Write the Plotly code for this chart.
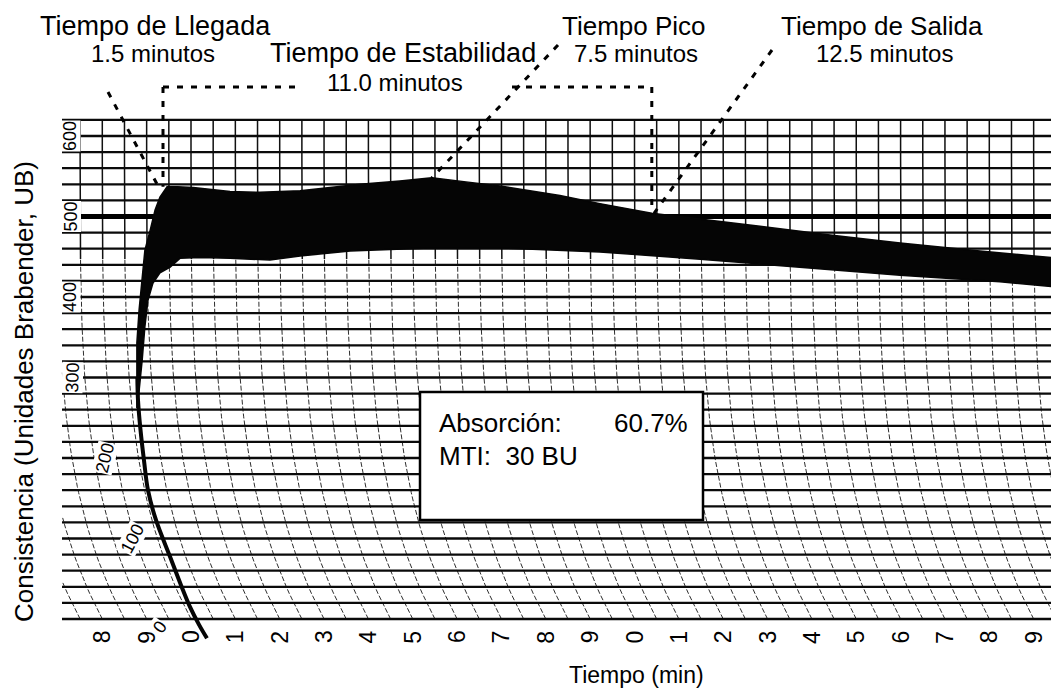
import numpy as np
import plotly.graph_objects as go

# ---------------- data ----------------
bu_tick_values = [600, 500, 400, 300, 200, 100, 0]
bu_grid_values = list(range(0, 640, 20))
minute_tick_values = list(range(-2, 20))
minute_tick_labels = [str(m % 10) for m in minute_tick_values]

# upper edge of the consistency band (chart minutes, BU)
upper_t = [-0.54, -0.30, 0.05, 0.88, 1.56, 2.46, 3.13, 3.81, 4.71, 5.43, 6.20, 6.97,
           8.32, 9.22, 10.39, 11.48, 12.83, 14.41, 15.99, 17.79, 19.60]
upper_bu = [537, 537, 536, 531, 530, 532, 536, 540, 544, 548, 543, 538,
            526, 516, 504, 497, 488, 477, 467, 457, 448]
# lower edge of the band
lower_t = [-0.25, 0.20, 0.88, 1.78, 2.46, 3.59, 5.39, 6.97, 9.22, 11.48, 13.73, 15.99, 18.24, 19.60]
lower_bu = [448, 449, 448, 446, 451, 457, 461, 461, 456, 447, 437, 427, 419, 412]
# outer (left) edge of the rising part, bottom -> top
outer_t = [-1.22, -1.22, -1.22, -1.17, -1.10, -1.04, -0.92, -0.81, -0.70]
outer_bu = [262, 301, 343, 384, 425, 458, 483, 508, 524]
# inner edge of the rising part, top -> bottom
inner_t = [-0.47, -0.70, -0.86, -0.97, -1.04, -1.10, -1.17, -1.21]
inner_bu = [437, 430, 417, 396, 363, 322, 281, 262]
# initial single trace of the pen
start_t = [-1.21, -1.195, -1.139, -1.06, -0.97, -0.79, -0.47, -0.225, -0.023, 0.18, 0.36]
start_bu = [300, 272, 235, 197, 160, 123, 77, 42, 15, -7, -24]

absorcion = "60.7%"
mti = "30 BU"

# ---------------- layout calibration ----------------
# the page body adds an 8px margin, so the figure covers window pixels 8..1059 / 8..690
OFF = 8
WIN_W, WIN_H = 1059, 690
W, H = WIN_W - OFF, WIN_H - OFF
X0_PX, PX_PER_MIN = 191.0, 44.35
Y0_PX, PX_PER_BU = 619.0, 0.805


def tx(px):
    return (px - X0_PX) / PX_PER_MIN


def by(py):
    return (Y0_PX - py) / PX_PER_BU


FONT = "Liberation Sans, Arial, sans-serif"
fig = go.Figure()

# ---------------- chart paper: curved time lines ----------------
C_ARC = 1.5
x_left = tx(62)
solid_x, solid_y, dash_x, dash_y = [], [], [], []
for m in np.arange(-3.0, 21.01, 0.5):
    b = np.linspace(0, 620, 80)
    u = (620 - b) / 620
    x = m - C_ARC + C_ARC * u ** 4
    for xi, bi in zip(x, b):
        if xi < x_left:
            continue
        if bi >= 440:
            solid_x.append(xi); solid_y.append(bi)
        if bi <= 450:
            dash_x.append(xi); dash_y.append(bi)
    solid_x.append(None); solid_y.append(None)
    dash_x.append(None); dash_y.append(None)
fig.add_trace(go.Scatter(x=dash_x, y=dash_y, mode="lines",
                         line=dict(color="#2e2e2e", width=1, dash="5px,2px"),
                         hoverinfo="skip", showlegend=False))
fig.add_trace(go.Scatter(x=solid_x, y=solid_y, mode="lines",
                         line=dict(color="#111", width=1.5),
                         hoverinfo="skip", showlegend=False))

# horizontal consistency lines
hx, hy = [], []
for v in bu_grid_values:
    hx += [x_left, tx(WIN_W + 5), None]
    hy += [v, v, None]
fig.add_trace(go.Scatter(x=hx, y=hy, mode="lines", line=dict(color="#0a0a0a", width=2.3),
                         hoverinfo="skip", showlegend=False))
# 500 BU reference line
fig.add_trace(go.Scatter(x=[tx(78), tx(WIN_W + 5)], y=[500, 500], mode="lines",
                         line=dict(color="#000", width=5), hoverinfo="skip", showlegend=False))

# ---------------- consistency band ----------------
poly_t = outer_t + upper_t + lower_t[::-1] + inner_t
poly_b = outer_bu + upper_bu + lower_bu[::-1] + inner_bu
fig.add_trace(go.Scatter(x=poly_t, y=poly_b, mode="lines", fill="toself",
                         fillcolor="#050505", line=dict(color="#050505", width=1.5),
                         hoverinfo="skip", showlegend=False))
fig.add_trace(go.Scatter(x=start_t, y=start_bu, mode="lines", line_shape="spline",
                         line=dict(color="#050505", width=4),
                         hoverinfo="skip", showlegend=False))

# ---------------- annotation leader lines ----------------
ipk = int(np.argmax(upper_bu))
peak_t, peak_b = upper_t[ipk], upper_bu[ipk]
arr_t = tx(163)
dep_t = upper_t[upper_bu.index(504)]
dep_b = 504
bracket_b = by(87)
DASH = dict(color="black", width=3, dash="6px,8px")
shapes = [
    dict(type="line", x0=tx(108), y0=by(92), x1=tx(158), y1=by(186), line=DASH),
    dict(type="line", x0=arr_t, y0=bracket_b, x1=arr_t, y1=537, line=DASH),
    dict(type="line", x0=arr_t, y0=bracket_b, x1=tx(300), y1=bracket_b, line=DASH),
    dict(type="line", x0=tx(512), y0=bracket_b, x1=dep_t, y1=bracket_b, line=DASH),
    dict(type="line", x0=dep_t, y0=bracket_b, x1=dep_t, y1=dep_b, line=DASH),
    dict(type="line", x0=tx(558), y0=by(45), x1=peak_t, y1=peak_b, line=DASH),
    dict(type="line", x0=tx(772), y0=by(50), x1=dep_t + 0.05, y1=dep_b, line=DASH),
    # info box
    dict(type="rect", x0=tx(420), y0=by(392), x1=tx(703), y1=by(520),
         fillcolor="white", line=dict(color="black", width=2.5), layer="above"),
]

ann = []


def text(s, px, py, size=24, anchor="center", angle=0):
    ann.append(dict(text=s, x=tx(px), y=by(py), xref="x", yref="y", showarrow=False,
                    xanchor=anchor, yanchor="middle", textangle=angle,
                    font=dict(family=FONT, size=size, color="black")))


text("Tiempo de Llegada", 155, 26, size=27)
text("1.5 minutos", 153, 53, size=24)
text("Tiempo de Estabilidad", 403, 53, size=27)
text("11.0 minutos", 395, 82, size=24)
text("Tiempo Pico", 634, 26, size=26)
text("7.5 minutos", 636, 53, size=24)
text("Tiempo de Salida", 882, 26, size=26)
text("12.5 minutos", 884, 53, size=24)
text("Absorción:", 437, 423, size=26, anchor="left")
text(absorcion, 690, 423, size=26, anchor="right")
text("MTI:  " + mti, 437, 456, size=26, anchor="left")
text("Tiempo (min)", 636, 675, size=23)
text("Consistencia (Unidades Brabender, UB)", 24, 392, size=26, angle=-90)

# y tick labels drawn along the paper arc
ylab_px = {600: (70, 0), 500: (70, 0), 400: (70, 0), 300: (72, 0), 200: (105, 0), 100: (132, 0), 0: (160, -10)}
ylab_ang = {600: -90, 500: -90, 400: -90, 300: -88, 200: -76, 100: -62, 0: -55}
for v in bu_tick_values:
    px, dy = ylab_px[v]
    ann.append(dict(text=str(v), x=tx(px), y=v + dy, xref="x", yref="y", showarrow=False,
                    textangle=ylab_ang[v], bgcolor="white", borderpad=0,
                    font=dict(family=FONT, size=18, color="black")))

# time tick labels
for m, lab in zip(minute_tick_values, minute_tick_labels):
    ann.append(dict(text=lab, x=m, y=by(637), xref="x", yref="y", showarrow=False,
                    textangle=-90, font=dict(family=FONT, size=23, color="black")))

fig.update_layout(
    width=W, height=H, margin=dict(l=0, r=0, t=0, b=0),
    paper_bgcolor="white", plot_bgcolor="white",
    xaxis=dict(range=[tx(OFF), tx(WIN_W)], visible=False, fixedrange=True),
    yaxis=dict(range=[by(WIN_H), by(OFF)], visible=False, fixedrange=True),
    shapes=shapes, annotations=ann, showlegend=False,
)

fig.write_html("out.html")
